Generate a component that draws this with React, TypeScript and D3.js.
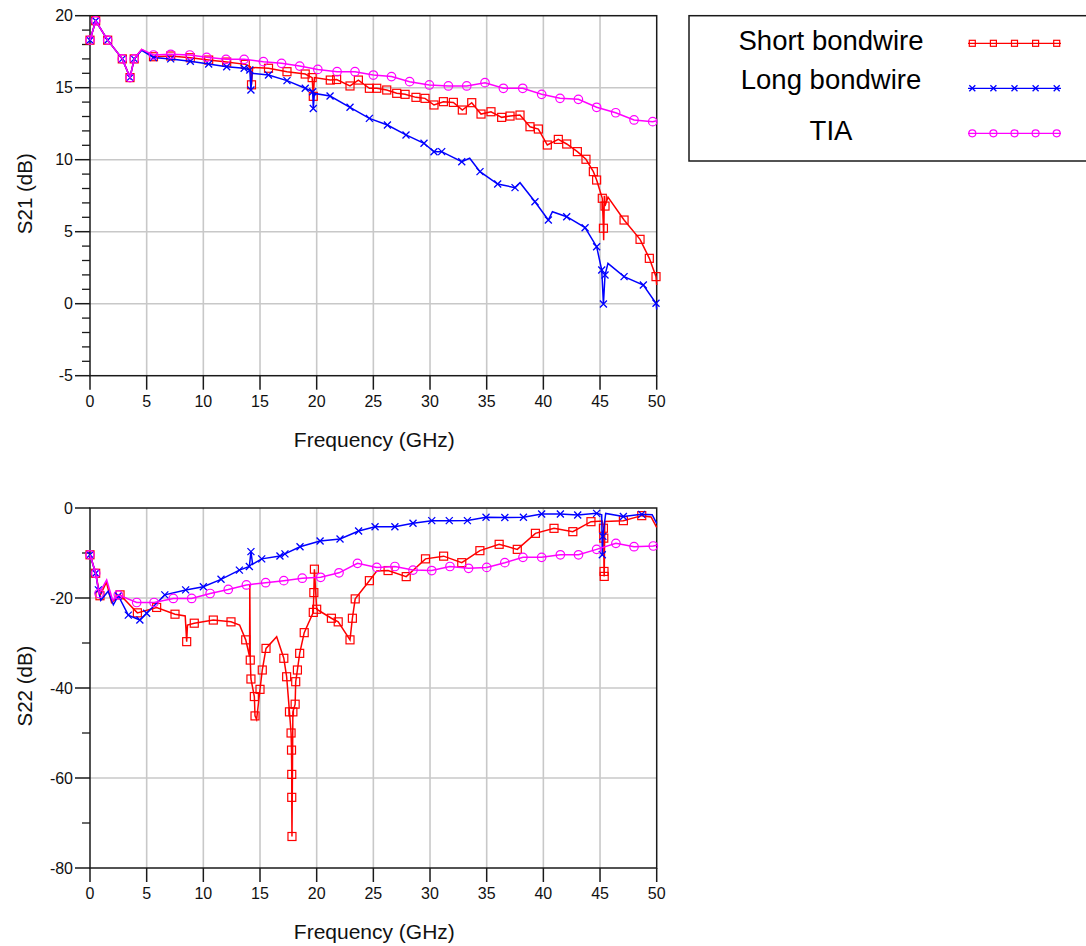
import * as d3 from "d3";

type Pt = [number, number, number?];

// frequency axis (GHz)
const freqTicks = [0, 5, 10, 15, 20, 25, 30, 35, 40, 45, 50];
const s21Ticks = [-5, 0, 5, 10, 15, 20];
const s22Ticks = [-80, -60, -40, -20, 0];

const legendNames = ["Short bondwire", "Long bondwire", "TIA"];

// third value 0 = line point with no marker
const s21Short: Pt[] = [
  [0, 18.3], [0.5, 19.65], [1.56, 18.3], [2.85, 17.0], [3.53, 15.7], [3.9, 17.0], [4.56, 17.66, 0],
  [5.6, 17.15], [7.12, 17.2], [8.85, 17.08], [10.47, 16.92], [12.06, 16.78], [13.7, 16.62],
  [14.15, 16.45, 0], [14.25, 15.2], [14.35, 16.4, 0], [15.75, 16.35], [17.38, 16.11], [18.99, 15.95],
  [19.6, 15.7], [19.7, 14.4], [19.8, 15.7, 0], [21.2, 15.53], [21.76, 15.57], [22.94, 15.12],
  [23.68, 15.53], [24.65, 14.96], [25.3, 14.96], [26.18, 14.84], [27.06, 14.61], [27.8, 14.54],
  [28.76, 14.33], [29.56, 14.26], [30.35, 13.8], [31.18, 14.03], [32.06, 13.98], [32.85, 13.45],
  [33.68, 13.96], [34.5, 13.17], [35.38, 13.33], [36.32, 12.94], [37.06, 13.03], [37.94, 13.1],
  [38.82, 12.29], [39.56, 12.13], [40.35, 11.02], [41.32, 11.41], [42.06, 11.09], [43.0, 10.56],
  [43.76, 10.03], [44.41, 9.17], [44.7, 8.59], [45.2, 7.32], [45.3, 5.24], [45.32, 4.4, 0],
  [45.38, 7.5, 0], [45.44, 6.78], [45.7, 7.4, 0], [47.12, 5.81], [48.53, 4.47], [49.35, 3.15],
  [49.94, 1.88], [50, 1.3, 0],
];

const s21Long: Pt[] = [
  [0, 18.3], [0.5, 19.65], [1.56, 18.3], [2.85, 17.0], [3.53, 15.7], [3.9, 17.0], [4.56, 17.6, 0],
  [5.6, 17.1], [7.12, 17.0], [8.85, 16.84], [10.47, 16.65], [12.06, 16.46], [13.6, 16.35],
  [14.1, 16.23], [14.2, 14.84], [14.3, 16.0, 0], [15.75, 15.88], [17.38, 15.49], [18.99, 14.96],
  [19.65, 14.72], [19.7, 13.55], [19.8, 14.6, 0], [21.18, 14.42], [22.94, 13.64], [24.65, 12.87],
  [26.24, 12.41], [27.88, 11.72], [29.47, 11.14], [30.35, 10.55], [31.03, 10.56], [32.8, 9.86],
  [33.5, 10.1, 0], [34.41, 9.17], [35.97, 8.31], [37.5, 8.06], [37.94, 8.4, 0], [39.26, 7.08],
  [40.44, 5.81], [40.8, 6.39, 0], [42.06, 6.04], [43.68, 5.28], [44.7, 3.96], [45.15, 2.34],
  [45.3, -0.02], [45.44, 1.99], [45.7, 2.8, 0], [47.12, 1.88], [48.82, 1.3], [49.94, 0.03],
  [50, -0.4, 0],
];

const s21Tia: Pt[] = [
  [0, 18.3], [0.5, 19.65], [1.56, 18.3], [2.85, 17.0], [3.53, 15.7], [3.9, 17.0], [4.56, 17.66, 0],
  [5.6, 17.27], [7.12, 17.32], [8.8, 17.27], [10.3, 17.11], [12, 16.97], [13.6, 16.97], [15.3, 16.81],
  [16.9, 16.69], [18.5, 16.5], [20.1, 16.27], [21.8, 16.11], [23.38, 16.11], [25, 15.88],
  [26.6, 15.77], [28.2, 15.42], [29.94, 15.19], [31.62, 15.12], [33.24, 15.12], [34.85, 15.35],
  [36.47, 14.96], [38.18, 14.96], [39.85, 14.54], [41.47, 14.26], [43.09, 14.19], [44.7, 13.64],
  [46.38, 13.26], [48, 12.76], [49.65, 12.64], [50, 12.7, 0],
];

const s22Short: Pt[] = [
  [0, -10.4], [0.5, -14.5], [0.88, -19.5], [1.45, -16.5, 0], [1.9, -21, 0], [2.65, -19.3],
  [4.18, -23.3], [5.88, -22.1], [7.5, -23.6], [8.4, -24, 0], [8.53, -29.7], [8.6, -26, 0],
  [9.2, -25.6], [10.88, -24.9], [12.44, -25.3], [13.2, -26, 0], [13.74, -29.3], [14.08, -33, 0],
  [14.1, -17, 0], [14.14, -33.8], [14.2, -38], [14.5, -41.9], [14.56, -46.2], [14.7, -47, 0],
  [15, -40.3], [15.2, -36], [15.53, -31.2], [16.47, -28.6, 0], [17.1, -33.4], [17.35, -37.5],
  [17.6, -45.3], [17.74, -50], [17.78, -53.8], [17.8, -59.2], [17.8, -64.3], [17.82, -73],
  [17.9, -45.3], [18.1, -43.6], [18.15, -38.6], [18.3, -36], [18.5, -32.3], [18.9, -27.7],
  [19.7, -23.2], [19.75, -18.8], [19.8, -13.6], [20, -22.5], [21.3, -24.5], [21.9, -25.3],
  [22.94, -29.3], [23.15, -24.5], [23.4, -20.2], [24.65, -16.15], [25.3, -14, 0], [26.3, -13.9],
  [27.9, -15.25], [29.6, -11.3], [31.2, -10.7], [32.8, -12.15], [34.4, -9.48], [36.1, -8.07],
  [37.7, -9.19], [39.3, -5.63], [40.94, -4.52], [42.6, -5.26], [44.2, -3.04], [45.2, -2.9, 0],
  [45.3, -4.5], [45.33, -6.7], [45.35, -14.1], [45.37, -15.2], [45.42, -3, 0], [47.06, -2.81],
  [48.68, -1.7], [49.5, -2, 0], [50, -4.3, 0],
];

const s22Long: Pt[] = [
  [0, -10.4], [0.5, -14.5], [0.74, -18.2], [0.95, -20.5, 0], [1.6, -18.5, 0], [2.06, -21.5, 0],
  [2.5, -19.5], [3.38, -23.8], [4.4, -24.9], [5.0, -23.4], [6.6, -19.3], [8.44, -18.2], [10, -17.5],
  [11.56, -15.85], [13.18, -13.8], [14.06, -13.0], [14.2, -9.7], [14.35, -12.5, 0], [15.15, -11.3],
  [16.76, -10.67], [17.2, -10.2], [18.53, -8.6], [20.3, -7.33], [22.06, -6.9], [23.7, -5.1],
  [25.15, -4.15], [26.9, -4.15], [28.5, -3.4], [30.15, -2.81], [31.7, -2.81], [33.3, -2.8],
  [34.94, -2.07], [36.6, -2.1], [38.24, -2.07], [39.85, -1.33], [41.5, -1.33], [43.03, -1.56],
  [44.7, -1.19], [45.15, -1.5, 0], [45.2, -10.4], [45.25, -6.3], [45.5, -1.2, 0], [47.06, -1.9],
  [48.68, -1.41], [49.6, -1.5, 0], [50, -3.4, 0],
];

const s22Tia: Pt[] = [
  [0, -10.4], [0.5, -14.5], [0.8, -19], [1.47, -16, 0], [2.0, -20.5, 0], [2.5, -19.3], [4.12, -21],
  [5.65, -21], [7.35, -20.1], [8.97, -20.1], [10.6, -19], [12.2, -18.1], [13.8, -17.1], [15.5, -16.6],
  [17.1, -16.15], [18.73, -15.6], [20.35, -15.4], [21.97, -14.4], [23.6, -12.3], [25.3, -13.2],
  [26.9, -13.0], [28.5, -13.8], [30.15, -13.9], [31.76, -13.0], [33.4, -13.4], [35, -13.2],
  [36.6, -12.15], [38.2, -10.97], [39.85, -10.97], [41.5, -10.4], [43.1, -10.4], [44.7, -9.19],
  [46.4, -7.85], [48, -8.6], [49.7, -8.44], [50, -8.3, 0],
];

const colors = ["#ff0000", "#0000ff", "#ff00ff"];
const shapes = ["square", "cross", "circle"];
const font = "'Liberation Sans', Arial, sans-serif";

const Marker = ({ shape, x, y, s, color }: any) => {
  if (shape === "square")
    return <rect x={x - s / 2} y={y - s / 2} width={s} height={s} fill="none" stroke={color} strokeWidth={1.2} />;
  if (shape === "circle")
    return <circle cx={x} cy={y} r={s / 2} fill="none" stroke={color} strokeWidth={1.2} />;
  const h = s / 2;
  return (
    <path
      d={`M${x - h},${y - h}L${x + h},${y + h}M${x - h},${y + h}L${x + h},${y - h}`}
      fill="none" stroke={color} strokeWidth={1.3}
    />
  );
};

const Panel = ({ top, yDomain, yTicks, minorStep, yTitle, series }: any) => {
  const left = 90, right = 656.7, height = 360;
  const x = d3.scaleLinear().domain([0, 50]).range([left, right]);
  const y = d3.scaleLinear().domain(yDomain).range([top + height, top]);
  const line = d3.line<Pt>().x(d => x(d[0])).y(d => y(d[1]));
  const minor = d3.range(yDomain[0], yDomain[1] + 0.001, minorStep).filter(v => !yTicks.includes(v));
  const bottom = top + height;

  return (
    <g>
      {freqTicks.slice(1, -1).map(t => (
        <line key={"gx" + t} x1={x(t)} x2={x(t)} y1={top} y2={bottom} stroke="#c8c8c8" strokeWidth={1.6} />
      ))}
      {yTicks.slice(1, -1).map((t: number) => (
        <line key={"gy" + t} x1={left} x2={right} y1={y(t)} y2={y(t)} stroke="#c8c8c8" strokeWidth={1.6} />
      ))}
      <rect x={left} y={top} width={right - left} height={height} fill="none" stroke="#1a1a1a" strokeWidth={1.5} />
      {yTicks.map((t: number) => (
        <g key={"ty" + t}>
          <line x1={left - 15} x2={left} y1={y(t)} y2={y(t)} stroke="#1a1a1a" strokeWidth={1.5} />
          <text x={left - 17} y={y(t)} dy="0.35em" textAnchor="end" fontSize={16} fontFamily={font} fill="#111">{t}</text>
        </g>
      ))}
      {minor.map((t: number) => (
        <line key={"my" + t} x1={left - 8} x2={left} y1={y(t)} y2={y(t)} stroke="#1a1a1a" strokeWidth={1.3} />
      ))}
      {freqTicks.map(t => (
        <g key={"tx" + t}>
          <line x1={x(t)} x2={x(t)} y1={bottom} y2={bottom + 14} stroke="#1a1a1a" strokeWidth={1.5} />
          <text x={x(t)} y={bottom + 31} textAnchor="middle" fontSize={16} fontFamily={font} fill="#111">{t}</text>
        </g>
      ))}
      <text x={(left + right) / 2 + 1} y={bottom + 71} textAnchor="middle" fontSize={21} fontFamily={font} fill="#111">
        Frequency (GHz)
      </text>
      <text transform={`translate(32,${top + height / 2 - 2}) rotate(-90)`} textAnchor="middle" fontSize={20.5} fontFamily={font} fill="#111">
        {yTitle}
      </text>
      {series.map((s: Pt[], i: number) => (
        <g key={"s" + i}>
          <path d={line(s) || ""} fill="none" stroke={colors[i]} strokeWidth={1.5} />
          {s.filter(p => p[2] !== 0).map((p, j) => (
            <Marker key={j} shape={shapes[i]} x={x(p[0])} y={y(p[1])} s={i === 2 ? 8.5 : i === 1 ? 7 : 8} color={colors[i]} />
          ))}
        </g>
      ))}
    </g>
  );
};

const Legend = () => {
  const rowsY = [43.3, 88.3, 133.3];
  const textY = [49.8, 89.3, 139.8];
  const mx = d3.range(5).map(k => 972.3 + k * 21.1);
  return (
    <g>
      <rect x={689} y={15.7} width={420} height={145.3} fill="#fff" stroke="#1a1a1a" strokeWidth={1.5} />
      {legendNames.map((n, i) => (
        <g key={n}>
          <text x={831} y={textY[i]} textAnchor="middle" fontSize={27.5} fontFamily={font} fill="#000">{n}</text>
          <line x1={968} x2={1061} y1={rowsY[i]} y2={rowsY[i]} stroke={colors[i]} strokeWidth={1.3} />
          {mx.map((xx, k) => (
            <Marker key={k} shape={shapes[i]} x={xx} y={rowsY[i]} s={i === 2 ? 7 : 6} color={colors[i]} />
          ))}
        </g>
      ))}
    </g>
  );
};

export default function App() {
  return (
    <div style={{ position: "absolute", left: 0, top: 0 }}>
      <svg width={1086} height={946} style={{ display: "block", background: "#fff" }}>
        <Panel top={15.7} yDomain={[-5, 20]} yTicks={s21Ticks} minorStep={1} yTitle="S21 (dB)"
          series={[s21Short, s21Long, s21Tia]} />
        <Panel top={508} yDomain={[-80, 0]} yTicks={s22Ticks} minorStep={10} yTitle="S22 (dB)"
          series={[s22Short, s22Long, s22Tia]} />
        <Legend />
      </svg>
    </div>
  );
}
